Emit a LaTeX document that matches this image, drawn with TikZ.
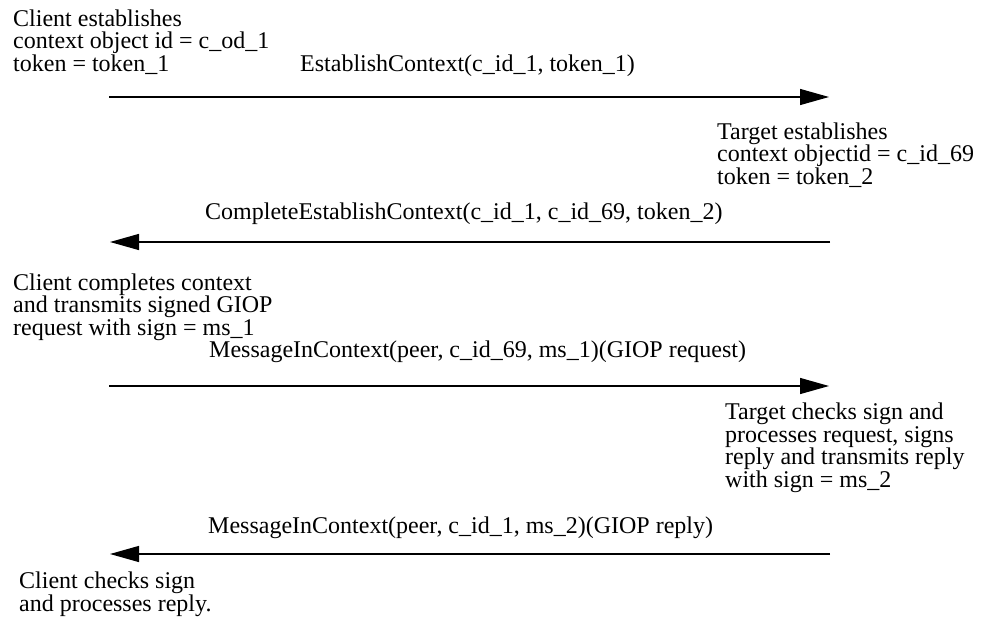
\documentclass[tikz,border=0pt]{standalone}
\usepackage{fontspec}
\setmainfont{Liberation Serif}
\usetikzlibrary{arrows.meta}
\begin{document}
\begin{tikzpicture}[x=1pt,y=-1pt,
  txt/.style={font=\fontsize{24}{22.5}\selectfont, inner sep=0pt, anchor=base west, align=left},
  msg/.style={line width=1.3pt, -{Triangle[length=29pt,width=16pt]}}]
\useasboundingbox (0,0) rectangle (990,618);
% client side notes (anchor = baseline of last line)
\node[txt] (c1) at (13,71) {Client establishes\\context object id = c\_od\_1\\token = token\_1};
\node[txt] (c2) at (13,335) {Client completes context\\and transmits signed GIOP\\request with sign = ms\_1};
\node[txt] (c3) at (19,611) {Client checks sign\\and processes reply.};
% target side notes
\node[txt] (t1) at (717,184) {Target establishes\\context objectid = c\_id\_69\\token = token\_2};
\node[txt] (t2) at (725,487) {Target checks sign and\\processes request, signs\\reply and transmits reply\\with sign = ms\_2};
% message labels
\node[txt] (m1) at (300,71) {EstablishContext(c\_id\_1, token\_1)};
\node[txt] (m2) at (205,219) {CompleteEstablishContext(c\_id\_1, c\_id\_69, token\_2)};
\node[txt] (m3) at (209,357) {MessageInContext(peer, c\_id\_69, ms\_1)(GIOP request)};
\node[txt] (m4) at (208,533) {MessageInContext(peer, c\_id\_1, ms\_2)(GIOP reply)};
% arrows
\coordinate (a1s) at (109,97);  \coordinate (a1e) at (829,97);
\coordinate (a2s) at (830,242); \coordinate (a2e) at (110,242);
\coordinate (a3s) at (109,386); \coordinate (a3e) at (829,386);
\coordinate (a4s) at (830,554); \coordinate (a4e) at (110,554);
\draw[msg] (a1s) -- (a1e);
\draw[msg] (a2s) -- (a2e);
\draw[msg] (a3s) -- (a3e);
\draw[msg] (a4s) -- (a4e);
\end{tikzpicture}
\end{document}
